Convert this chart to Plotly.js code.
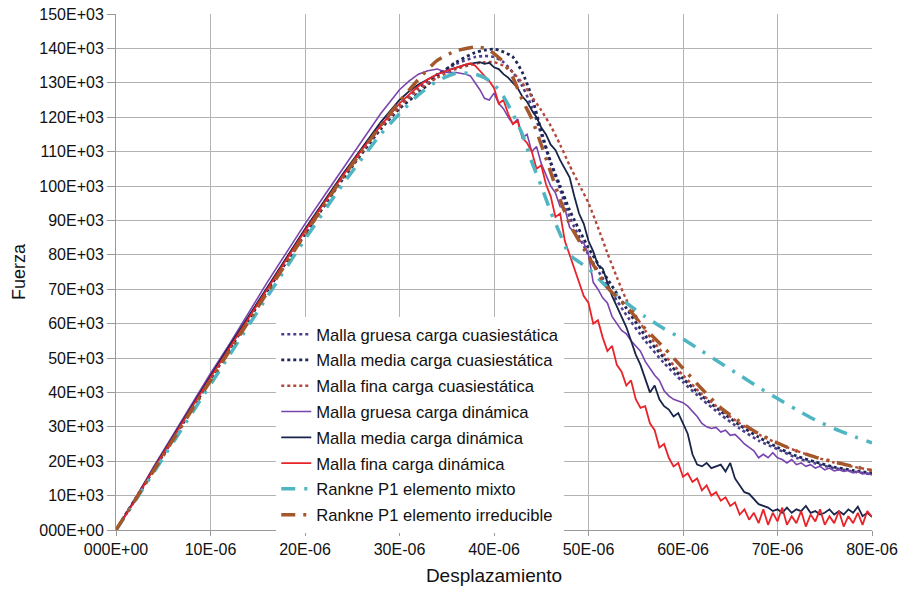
<!DOCTYPE html>
<html>
<head>
<meta charset="utf-8">
<script src="https://cdn.plot.ly/plotly-3.0.1.min.js"></script>
<style>html,body{margin:0;padding:0;background:#fff;}#chart{width:901px;height:589px;}</style>
</head>
<body>
<div id="chart"></div>
<script>
// Units: x in E-06, y in E+03
const xTickVals = [0,10,20,30,40,50,60,70,80];
const xTickText = ["000E+00","10E-06","20E-06","30E-06","40E-06","50E-06","60E-06","70E-06","80E-06"];
const yTickVals = [0,10,20,30,40,50,60,70,80,90,100,110,120,130,140,150];
const yTickText = ["000E+00","10E+03","20E+03","30E+03","40E+03","50E+03","60E+03","70E+03","80E+03","90E+03","100E+03","110E+03","120E+03","130E+03","140E+03","150E+03"];

const seriesNames = [
  "Malla gruesa carga cuasiestática",
  "Malla media carga cuasiestática",
  "Malla fina carga cuasiestática",
  "Malla gruesa carga dinámica",
  "Malla media carga dinámica",
  "Malla fina carga dinámica",
  "Rankne P1 elemento mixto",
  "Rankne P1 elemento irreducible"
];

// Quasi-static (smooth) series
const xGruesaCuasi = [0,4,8,12,16,20,24,28,30,32,34,36,38,39,40,41,42,43,44,45,46,47,48,50,52,54,56,58,60,62,64,66,68,70,72,74,76,78,80];
const yGruesaCuasi = [0,17.8,35.5,53,70,87,103,117.5,123.5,128.5,132.5,135.5,137.5,137.8,137.5,136,133,129,123,115,106.5,99,91,80,71,62.5,55,48.5,43,38,33.5,29.5,26,23.5,21,19.3,18,17,16.2];

const xMediaCuasi = [0,4,8,12,16,20,24,28,30,32,34,36,38,39,40,41,42,43,44,45,46,47,48,50,52,54,56,58,60,62,64,66,68,70,72,74,76,78,80];
const yMediaCuasi = [0,17.5,35,52.5,69.5,86,102,116.5,122.5,127,132,136,138.8,139.5,139.8,139,137.5,133,126,116,107,100,93,82,73,64.5,56.5,50,44,39,34.5,30.5,27,24,21.5,19.8,18.3,17.3,16.5];

const xFinaCuasi = [0,4,8,12,16,20,24,28,30,32,34,36,38,39,40,41,42,43,44,45,46,47,48,49,50,51,52,53,54,56,58,60,62,64,66,68,70,72,74,76,78,80];
const yFinaCuasi = [0,17.6,35.3,52.8,70,86.5,102.5,117,123,128,131.5,134,135.5,136,136,135,133,130,126,122,117.5,112,106,100.5,95,88,80.5,73.5,67,58,51,45,39.5,35,31,27.8,25.2,23,21.2,19.6,18.4,17.4];

// Dynamic (noisy) series
const xGruesaDin = [0,2,4,6,8,10,12,14,16,18,20,22,24,26,28,30,31,32,33,34,35,36,37,
  37.5,38,38.5,39,39.5,40,40.5,41,41.5,42,42.5,43,43.5,44,44.5,45,45.5,46,46.5,47,47.5,48,48.5,49,49.5,50,
  50.5,51,51.5,52,52.5,53,53.5,54,54.5,55,55.5,56,56.5,57,57.5,58,58.5,59,59.5,60,60.5,61,61.5,62,62.5,63,
  63.5,64,64.5,65,65.5,66,66.5,67,67.5,68,68.5,69,69.5,70,70.5,71,71.5,72,72.5,73,73.5,74,74.5,75,75.5,76,
  76.5,77,77.5,78,78.5,79,79.5,80];
const yGruesaDin = [0,9,18.5,27.5,36.5,45.5,54,63,72,80.5,89,97,105,113,121,128,130.5,132.5,133.5,134,133,133,132.5,
  132,130,128,125.5,125,127,124,122.5,120,118,119.5,114,115,110,111.5,106.5,103,100,98,94,93.5,88,86.5,84,83.5,80,
  72,70,67.5,66,62,60,58,57,55,53.5,52,49,47,45,43.5,40.5,39,38,37.5,37,36,34.5,33,31,30,29.5,
  29.8,28.5,29,27.5,27.8,26.5,25,24,23,21,22,21,22.5,21,20.5,19.5,20.5,19,19.5,18.5,19,18,18.5,17.5,18,17.2,
  17.5,17,17.3,16.6,17,16.3,16.5,16];

const xMediaDin = [0,2,4,6,8,10,12,14,16,18,20,22,24,26,28,30,31,32,33,34,35,36,37,38,
  38.5,39,39.5,40,40.5,41,41.5,42,42.5,43,43.5,44,44.5,45,45.5,46,46.5,47,47.5,48,48.5,49,49.5,50,
  50.5,51,51.5,52,52.5,53,53.5,54,54.5,55,55.5,56,56.5,57,57.5,58,58.5,59,59.5,60,60.5,61,61.5,62,62.5,63,
  63.5,64,64.5,65,65.5,66,66.5,67,67.5,68,68.5,69,69.5,70,70.5,71,71.5,72,72.5,73,73.5,74,74.5,75,75.5,76,
  76.5,77,77.5,78,78.5,79,79.5,80];
const yMediaDin = [0,8.7,18,27,36,44.8,53.5,62,70.5,79,87.5,95.5,103.5,111,118.5,125,127.5,129.5,131,132.5,133.5,134.5,135.3,135.8,
  136,135.5,135.8,134.5,134,132.5,131.5,130,128.5,126,124.5,122,120,117,115,112,110.5,107.5,105,102.5,97,92,89,84,
  81,77,76,72,68,65,62,59,55,51,48,44,40,42,38,36,35,33,34,31,28,22,19,18.5,19.5,18,
  18.5,19,17,19.5,15,13,11,10.5,9,7.5,7,6.5,5.5,6,5,6.5,5,6,5.5,7,5,5.5,4.5,5,6,4.5,
  5.5,4.5,6,5,6.8,4,5,3.8];

const xFinaDin = [0,2,4,6,8,10,12,14,16,18,20,22,24,26,28,30,31,32,33,34,35,36,37,
  37.5,38,38.5,39,39.5,40,40.5,41,41.5,42,42.5,43,43.5,44,44.5,45,45.5,46,46.5,47,47.5,48,48.5,49,49.5,50,
  50.5,51,51.5,52,52.5,53,53.5,54,54.5,55,55.5,56,56.5,57,57.5,58,58.5,59,59.5,60,60.5,61,61.5,62,62.5,63,
  63.5,64,64.5,65,65.5,66,66.5,67,67.5,68,68.5,69,69.5,70,70.5,71,71.5,72,72.5,73,73.5,74,74.5,75,75.5,76,
  76.5,77,77.5,78,78.5,79,79.5,80];
const yFinaDin = [0,8.5,17.8,26.8,35.5,44.3,53,61.5,70,78.5,87,95,103,110.5,117.5,124,126.5,129,131,132.5,133.5,134.5,135.3,
  135.7,135,133.5,132,130.5,128.5,124,125,121,118,119,114,112.5,110,105,106,100.5,97,91,92,84,80,76,72,68,66,
  60,61,56,52,53.5,48,46,42,43.5,38,35.5,36,31,29,24,25,21,18.5,19.5,15.5,16.5,14,15,11.5,13,10,
  11,8.5,9.5,7,8,4.5,6,3,5,2,6,1.5,5,2.5,6.5,1.5,4,2,5.5,1,4.5,2.5,6,1.5,4,2,
  5.5,1,4,2,5,1.5,5.5,3.8];

// Rankine models
const xMixto = [0,4,8,12,16,20,24,28,30,32,34,36,38,39,40,41,42,43,44,45,46,47,48,50,52,54,56,58,60,62,64,66,68,70,72,74,76,78,80];
const yMixto = [0,16.8,33.8,50.8,67.8,84.5,100.5,115,121,126.5,130.5,132.8,132.5,131.5,129.5,126,121,115,107,100,92.5,86,80,76,70.5,66,62,58.5,55.5,52,48.5,45,41.5,38.2,35,32,29.5,27.3,25.3];

const xIrreducible = [0,4,8,12,16,20,24,28,30,32,34,36,38,39,40,41,42,43,44,45,46,47,48,50,52,54,56,58,60,62,64,66,68,70,72,74,76,78,80];
const yIrreducible = [0,17.3,34.8,52,69,86,102.5,117.5,124.5,131,136.5,139.3,140.4,140,138.5,136,131.5,125,119.5,112,104,96,89,79.5,70.5,65,58.5,53,47,41,35.5,31.5,28,25.3,23,21.2,19.8,18.5,17.3];

const styles = [
  {color:"#4d3f8f", width:2.6, dash:"dot", shape:"spline"},
  {color:"#1f2757", width:2.8, dash:"dot", shape:"spline"},
  {color:"#b4483c", width:2.4, dash:"dot", shape:"spline"},
  {color:"#7a44ae", width:1.6, dash:"solid", shape:"linear"},
  {color:"#18244a", width:1.8, dash:"solid", shape:"linear"},
  {color:"#e8242a", width:1.8, dash:"solid", shape:"linear"},
  {color:"#4fb5c2", width:3.5, dash:"14px,9px,3px,9px", shape:"spline"},
  {color:"#a4572a", width:3.5, dash:"14px,8px,3px,8px", shape:"spline"}
];
const xs = [xGruesaCuasi,xMediaCuasi,xFinaCuasi,xGruesaDin,xMediaDin,xFinaDin,xMixto,xIrreducible];
const ys = [yGruesaCuasi,yMediaCuasi,yFinaCuasi,yGruesaDin,yMediaDin,yFinaDin,yMixto,yIrreducible];

const traces = seriesNames.map((n,i)=>({
  type:"scatter", mode:"lines", name:n, x:xs[i], y:ys[i],
  legendgroup:"g"+i,
  line:{color:styles[i].color, width:styles[i].width, dash:styles[i].dash, shape:styles[i].shape, smoothing:0.6}
}));

const tickFont = {family:"'Liberation Sans Narrow','Arial Narrow','Liberation Sans',Arial,sans-serif", size:16, color:"#111"};

const layout = {
  width:901, height:589,
  margin:{l:116, r:29, t:14, b:59},
  paper_bgcolor:"#fff", plot_bgcolor:"#fff",
  showlegend:true,
  legend:{x:0.212, y:0.413, xanchor:"left", yanchor:"top", bgcolor:"#fff", borderwidth:0,
    font:{family:"'Liberation Sans',Arial,sans-serif", size:16.6, color:"#111"},
    tracegroupgap:1.2, itemwidth:30},
  xaxis:{range:[0,80], tickvals:xTickVals, ticktext:xTickText, tickfont:tickFont,
    showgrid:true, gridcolor:"#b3b3b3", gridwidth:1, zeroline:false,
    showline:true, linecolor:"#999", linewidth:1, ticks:"outside", ticklen:5, tickcolor:"#999",
    title:{text:"Desplazamiento", font:{family:"'Liberation Sans',Arial,sans-serif", size:19, color:"#111"}, standoff:11}},
  yaxis:{range:[0,150], tickvals:yTickVals, ticktext:yTickText, tickfont:tickFont,
    showgrid:true, gridcolor:"#b3b3b3", gridwidth:1, zeroline:false,
    showline:true, linecolor:"#999", linewidth:1, ticks:"outside", ticklen:8, tickcolor:"#999",
    title:{text:"Fuerza", font:{family:"'Liberation Sans',Arial,sans-serif", size:18, color:"#111"}, standoff:8}}
};

Plotly.newPlot("chart", traces, layout, {displayModeBar:false, staticPlot:true});
</script>
</body>
</html>
